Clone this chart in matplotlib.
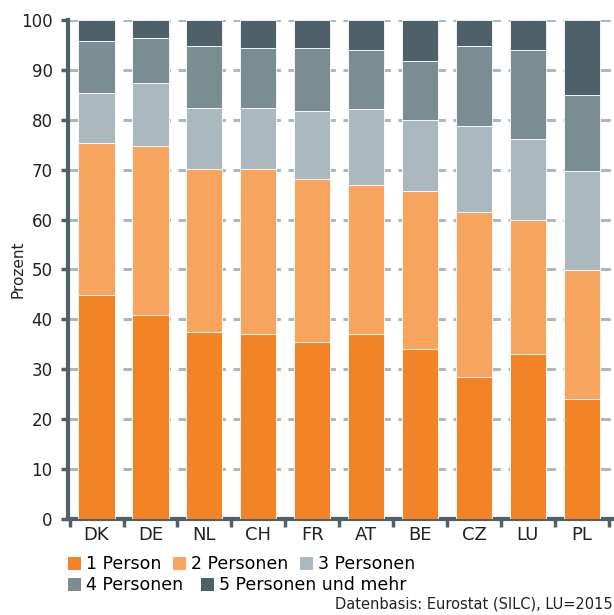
import matplotlib
matplotlib.use("Agg")
import matplotlib.pyplot as plt
import numpy as np
from matplotlib.patches import Patch

countries = ["DK", "DE", "NL", "CH", "FR", "AT", "BE", "CZ", "LU", "PL"]
p1 = [44.8, 40.8, 37.5, 37.0, 35.4, 37.0, 34.1, 28.4, 33.0, 24.0]
p2 = [30.6, 34.0, 32.7, 33.2, 32.8, 30.0, 31.6, 33.2, 26.9, 25.8]
p3 = [9.9, 12.5, 12.1, 12.2, 13.5, 15.1, 14.2, 17.1, 16.2, 20.0]
p4 = [10.4, 9.1, 12.4, 12.0, 12.6, 11.8, 11.8, 16.1, 17.8, 15.2]
p5 = [4.3, 3.6, 5.3, 5.6, 5.7, 6.1, 8.3, 5.2, 6.1, 15.0]
series_labels = ["1 Person", "2 Personen", "3 Personen", "4 Personen", "5 Personen und mehr"]
source = "Datenbasis: Eurostat (SILC), LU=2015"

colors = ["#f28327", "#f7a55e", "#abb8bf", "#7b8c93", "#4f6068"]
axis_color = "#4f6068"

fig = plt.figure(figsize=(6.14, 6.15), dpi=100)
ax = fig.add_axes([0.1107, 0.1561, 0.887, 0.8114])

x = np.arange(len(countries))
bottom = np.zeros(len(countries))
for vals, c in zip([p1, p2, p3, p4, p5], colors):
    ax.bar(x, vals, width=0.67, bottom=bottom, color=c, edgecolor="white",
           linewidth=0.6, zorder=3)
    bottom += np.array(vals)

ax.set_ylim(0, 100)
ax.set_xlim(-0.53, 9.57)
ax.set_yticks(np.arange(0, 101, 10))
for yv in range(10, 101, 10):
    ax.axhline(yv, color="#abb8bf", lw=2.2, linestyle=(0, (3.5, 2.5)), zorder=1)

ax.set_xticks(np.append(x - 0.5, 9.5))
ax.set_xticklabels([])
ax.set_xticks(x, minor=True)
ax.set_xticklabels(countries, minor=True, fontsize=13, color="#222222")
ax.tick_params(axis="x", which="major", length=6, width=2.5, color=axis_color, direction="out")
ax.tick_params(axis="x", which="minor", length=0, pad=5)
ax.tick_params(axis="y", length=5, width=2.5, color=axis_color, labelsize=12,
               labelcolor="#222222", pad=6)

for s in ["top", "right"]:
    ax.spines[s].set_visible(False)
for s in ["left", "bottom"]:
    ax.spines[s].set_color(axis_color)
    ax.spines[s].set_linewidth(3)

ax.set_ylabel("Prozent", fontsize=11, color="#222222", va="center")
ax.yaxis.set_label_coords(-0.092, 0.5)

handles = [Patch(facecolor=c, edgecolor="none") for c in colors]
common = dict(loc="upper left", frameon=False, fontsize=12.5, handlelength=0.75,
              handleheight=0.75, handletextpad=0.3, borderaxespad=0, borderpad=0)
leg1 = fig.legend(handles[:3], series_labels[:3], bbox_to_anchor=(0.111, 0.097),
                  ncol=3, columnspacing=0.65, **common)
leg2 = fig.legend(handles[3:], series_labels[3:], bbox_to_anchor=(0.111, 0.063),
                  ncol=2, columnspacing=1.0, **common)

fig.text(0.997, 0.005, source, ha="right", va="bottom", fontsize=10.5, color="#222222")

fig.savefig("out.png", dpi=100)
